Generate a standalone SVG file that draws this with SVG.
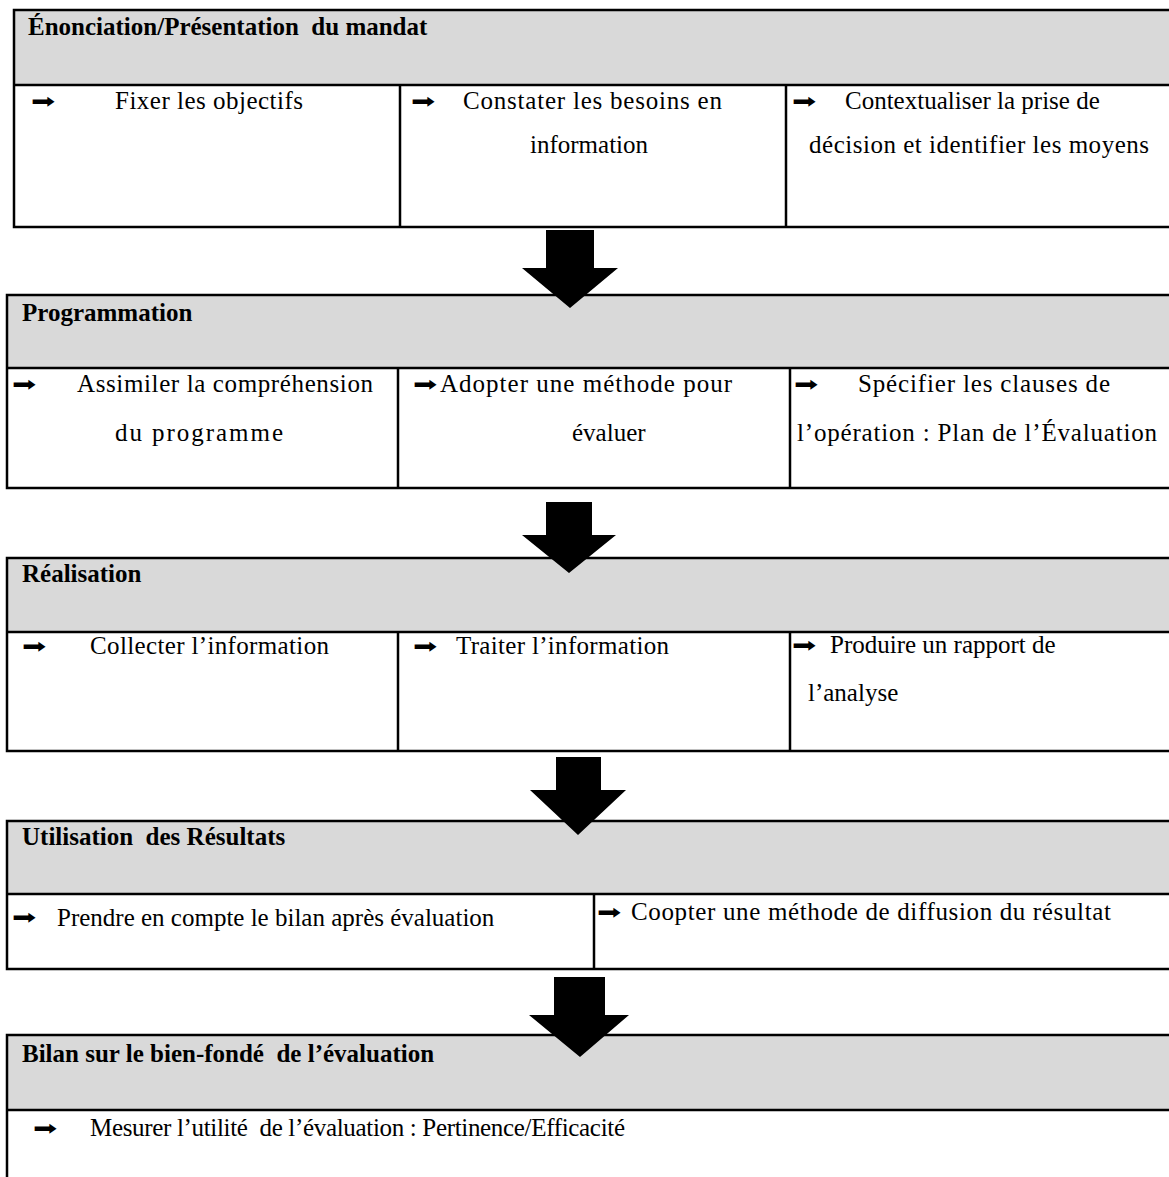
<svg xmlns="http://www.w3.org/2000/svg" width="1169" height="1177" viewBox="0 0 1169 1177">
<style>
.bg{fill:#ffffff}
.hdr{fill:#d9d9d9;stroke:none}
.ln{stroke:#000;stroke-width:2.5;fill:none}
.t{font-family:"Liberation Serif","Times New Roman",serif;font-size:25px;fill:#000}
.h{font-family:"Liberation Serif","Times New Roman",serif;font-size:25px;font-weight:bold;fill:#000}
.ar{font-family:"DejaVu Sans",sans-serif;font-size:20px;fill:#000}
.big{fill:#000;stroke:none}
</style>
<rect class="bg" x="0" y="0" width="1169" height="1177"/>

<g id="block1">
<rect class="hdr" x="14" y="10" width="1170" height="75"/>
<path class="ln" d="M1175,10 H14 V227 H1175 M14,85 H1175 M400,85 V227 M786,85 V227"/>
<text class="h" x="28" y="35" xml:space="preserve">Énonciation/Présentation  du mandat</text>
<text class="ar" transform="translate(31,108) scale(1.45,1)">➡</text>
<text class="t" x="115" y="109" textLength="188" lengthAdjust="spacing">Fixer les objectifs</text>
<text class="ar" transform="translate(411,108) scale(1.45,1)">➡</text>
<text class="t" x="463" y="109" textLength="259" lengthAdjust="spacing">Constater les besoins en</text>
<text class="t" x="530" y="153">information</text>
<text class="ar" transform="translate(792,108) scale(1.45,1)">➡</text>
<text class="t" x="845" y="109">Contextualiser la prise de</text>
<text class="t" x="809" y="153" textLength="340" lengthAdjust="spacing">décision et identifier les moyens</text>
</g>

<g id="block2">
<rect class="hdr" x="7" y="295" width="1170" height="73"/>
<path class="ln" d="M1175,295 H7 V488 H1175 M7,368 H1175 M398,368 V488 M790,368 V488"/>
<text class="h" x="22" y="321">Programmation</text>
<text class="ar" transform="translate(12,391) scale(1.45,1)">➡</text>
<text class="t" x="77" y="392" textLength="296" lengthAdjust="spacing">Assimiler la compréhension</text>
<text class="t" x="115" y="441" textLength="168" lengthAdjust="spacing">du programme</text>
<text class="ar" transform="translate(413,391) scale(1.45,1)">➡</text>
<text class="t" x="440" y="392" textLength="292" lengthAdjust="spacing">Adopter une méthode pour</text>
<text class="t" x="572" y="441">évaluer</text>
<text class="ar" transform="translate(794,391) scale(1.45,1)">➡</text>
<text class="t" x="858" y="392" textLength="252" lengthAdjust="spacing">Spécifier les clauses de</text>
<text class="t" x="797" y="441" textLength="360" lengthAdjust="spacing">l’opération : Plan de l’Évaluation</text>
</g>

<g id="block3">
<rect class="hdr" x="7" y="558" width="1170" height="74"/>
<path class="ln" d="M1175,558 H7 V751 H1175 M7,632 H1175 M398,632 V751 M790,632 V751"/>
<text class="h" x="22" y="582">Réalisation</text>
<text class="ar" transform="translate(22,653) scale(1.45,1)">➡</text>
<text class="t" x="90" y="654" textLength="239" lengthAdjust="spacing">Collecter l’information</text>
<text class="ar" transform="translate(413,653) scale(1.45,1)">➡</text>
<text class="t" x="456" y="654" textLength="213" lengthAdjust="spacing">Traiter l’information</text>
<text class="ar" transform="translate(792,652) scale(1.45,1)">➡</text>
<text class="t" x="830" y="653">Produire un rapport de</text>
<text class="t" x="808" y="701">l’analyse</text>
</g>

<g id="block4">
<rect class="hdr" x="7" y="821" width="1170" height="73"/>
<path class="ln" d="M1175,821 H7 V969 H1175 M7,894 H1175 M594,894 V969"/>
<text class="h" x="22" y="845" xml:space="preserve">Utilisation  des Résultats</text>
<text class="ar" transform="translate(12,924) scale(1.45,1)">➡</text>
<text class="t" x="57" y="926">Prendre en compte le bilan après évaluation</text>
<text class="ar" transform="translate(597,919) scale(1.45,1)">➡</text>
<text class="t" x="631" y="920" textLength="480" lengthAdjust="spacing">Coopter une méthode de diffusion du résultat</text>
</g>

<g id="block5">
<rect class="hdr" x="7" y="1035" width="1170" height="75"/>
<path class="ln" d="M1175,1035 H7 V1180 M7,1110 H1175"/>
<text class="h" x="22" y="1062" xml:space="preserve">Bilan sur le bien-fondé  de l’évaluation</text>
<text class="ar" transform="translate(33,1135) scale(1.45,1)">➡</text>
<text class="t" x="90" y="1136" xml:space="preserve" textLength="535" lengthAdjust="spacing">Mesurer l’utilité  de l’évaluation : Pertinence/Efficacité</text>
</g>

<g id="connectors">
<polygon class="big" points="546,230 594,230 594,268 618,268 570,308 522,268 546,268"/>
<polygon class="big" points="546,502 592,502 592,535 616,535 569,573 522,535 546,535"/>
<polygon class="big" points="556,757 601,757 601,790 626,790 578,835 530,790 556,790"/>
<polygon class="big" points="554,977 605,977 605,1015 629,1015 580,1057 529,1015 554,1015"/>
</g>
</svg>
